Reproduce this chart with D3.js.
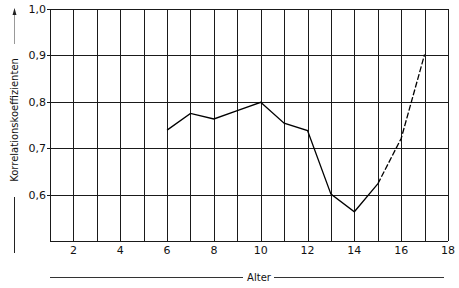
<!DOCTYPE html>
<html>
<head>
<meta charset="utf-8">
<script src="https://cdn.jsdelivr.net/npm/d3@7"></script>
<style>
  body { margin: 0; background: #fff; }
  svg { display: block; }
  text { font-family: "DejaVu Sans", Arial, sans-serif; fill: #111; }
</style>
</head>
<body>
<script>
(function (d3) {
  "use strict";

  /***** Data *****/
  var ages = [6, 7, 8, 9, 10, 11, 12, 13, 14, 15, 16, 17];
  var korr = [0.739, 0.775, 0.763, 0.781, 0.799, 0.754, 0.738, 0.601, 0.563, 0.623, 0.721, 0.902];
  var dashFrom = 15; // ab 15 Jahren gestrichelt
  var xTicks = [2, 4, 6, 8, 10, 12, 14, 16, 18];
  var yTicks = [0.6, 0.7, 0.8, 0.9, 1.0];

  /***** Configuration *****/
  var W = 459, H = 288;
  var x = d3.scaleLinear().domain([1, 18]).range([50, 448]);
  var y = d3.scaleLinear().domain([0.5, 1.0]).range([241, 9]);
  var comma = d3.formatLocale({ decimal: ",", thousands: ".", grouping: [3], currency: ["", " €"] }).format(".1f");

  var svg = d3.select("body").append("svg")
    .attr("width", W)
    .attr("height", H);

  /***** Grid *****/
  var grid = svg.append("g").attr("stroke", "#1a1a1a").attr("stroke-width", 1).attr("shape-rendering", "crispEdges");

  grid.selectAll("line.v")
    .data(d3.range(1, 19))
    .enter().append("line")
    .attr("class", "v")
    .attr("x1", function (d) { return Math.round(x(d)) + 0.5; })
    .attr("x2", function (d) { return Math.round(x(d)) + 0.5; })
    .attr("y1", y(1.0))
    .attr("y2", y(0.5));

  grid.selectAll("line.h")
    .data([0.5, 0.6, 0.7, 0.8, 0.9, 1.0])
    .enter().append("line")
    .attr("class", "h")
    .attr("x1", function (d) { return d === 0.5 ? x(1) : x(1) - 3; })
    .attr("x2", x(18))
    .attr("y1", function (d) { return Math.round(y(d)) + 0.5; })
    .attr("y2", function (d) { return Math.round(y(d)) + 0.5; });

  /***** Tick labels *****/
  svg.selectAll("text.ytick")
    .data(yTicks)
    .enter().append("text")
    .attr("class", "ytick")
    .attr("x", x(1) - 4)
    .attr("y", function (d) { return y(d) + 4; })
    .attr("text-anchor", "end")
    .attr("font-size", 11)
    .text(function (d) { return comma(d); });

  svg.selectAll("text.xtick")
    .data(xTicks)
    .enter().append("text")
    .attr("class", "xtick")
    .attr("x", function (d) { return x(d); })
    .attr("y", 254)
    .attr("text-anchor", "middle")
    .attr("font-size", 11)
    .text(function (d) { return d; });

  /***** Curve *****/
  var pts = ages.map(function (a, i) { return [a, korr[i]]; });
  var line = d3.line()
    .x(function (d) { return x(d[0]); })
    .y(function (d) { return y(d[1]); });

  svg.append("path")
    .datum(pts.filter(function (d) { return d[0] <= dashFrom; }))
    .attr("d", line)
    .attr("fill", "none")
    .attr("stroke", "#000")
    .attr("stroke-width", 1.3);

  svg.append("path")
    .datum(pts.filter(function (d) { return d[0] >= dashFrom; }))
    .attr("d", line)
    .attr("fill", "none")
    .attr("stroke", "#000")
    .attr("stroke-width", 1.3)
    .attr("stroke-dasharray", "6,2");

  /***** Axis titles *****/
  var yl = svg.append("g").attr("stroke", "#222").attr("stroke-width", 1);
  yl.append("line").attr("x1", 14.5).attr("x2", 14.5).attr("y1", 12).attr("y2", 44).attr("stroke", "#999");
  yl.append("path").attr("d", "M14.5,8 L12.5,15 L16.5,15 Z").attr("fill", "#222").attr("stroke", "none");
  yl.append("line").attr("x1", 14.5).attr("x2", 14.5).attr("y1", 197).attr("y2", 253);

  svg.append("text")
    .attr("transform", "translate(18," + 120 + ") rotate(-90)")
    .attr("text-anchor", "middle")
    .attr("font-size", 10)
    .text("Korrelationskoeffizienten");

  var xl = svg.append("g").attr("stroke", "#333").attr("stroke-width", 1);
  xl.append("line").attr("x1", 50).attr("x2", 243).attr("y1", 277.5).attr("y2", 277.5);
  xl.append("line").attr("x1", 274).attr("x2", 444).attr("y1", 277.5).attr("y2", 277.5);

  svg.append("text")
    .attr("x", 259)
    .attr("y", 281)
    .attr("text-anchor", "middle")
    .attr("font-size", 10)
    .text("Alter");

})(d3);
</script>
</body>
</html>
